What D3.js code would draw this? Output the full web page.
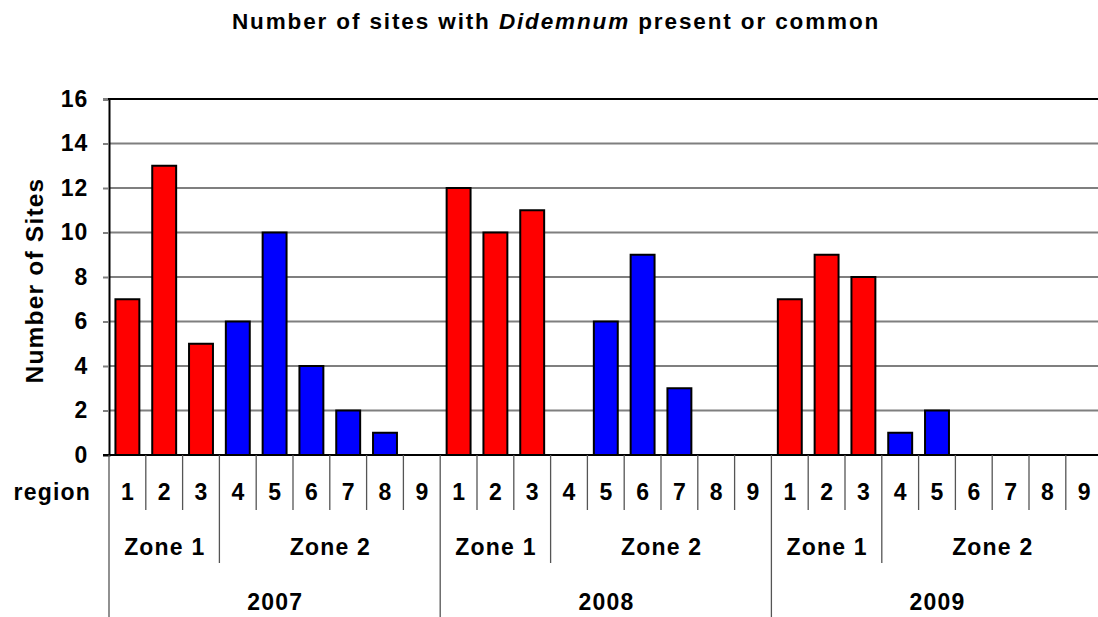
<!DOCTYPE html>
<html>
<head>
<meta charset="utf-8">
<script src="https://cdn.jsdelivr.net/npm/d3@7"></script>
<style>
  html, body { margin: 0; padding: 0; background: #fff; }
  svg { display: block; font-family: "Liberation Sans", Arial, sans-serif; }
  .lbl { font-size: 23px; font-weight: bold; letter-spacing: 1.2px; fill: #000; }
</style>
</head>
<body>
<svg id="chart" width="1098" height="617"></svg>
<script>
// Survey years, zones and regions
const years = ["2007", "2008", "2009"];
const zones = [
  { name: "Zone 1", regions: [1, 2, 3] },
  { name: "Zone 2", regions: [4, 5, 6, 7, 8, 9] }
];
const regions = [1, 2, 3, 4, 5, 6, 7, 8, 9];

// Number of sites with Didemnum present or common, per region
const sites2007 = [7, 13, 5, 6, 10, 4, 2, 1, 0];
const sites2008 = [12, 10, 11, 0, 6, 9, 3, 0, 0];
const sites2009 = [7, 9, 8, 1, 2, 0, 0, 0, 0];
const yTicks = [0, 2, 4, 6, 8, 10, 12, 14, 16];

const zoneColor = { "Zone 1": "#ff0000", "Zone 2": "#0000ff" };

const seriesByYear = [sites2007, sites2008, sites2009];
const rows = [];
years.forEach((yr, yi) => {
  regions.forEach((r, ri) => {
    const zone = zones.find(z => z.regions.includes(r)).name;
    rows.push({ key: yr + "-" + r, year: yr, region: r, zone, value: seriesByYear[yi][ri] });
  });
});

const svg = d3.select("#chart");
const plotL = 109, plotR = 1102.6, plotT = 99, plotB = 455;

const x = d3.scaleBand().domain(rows.map(d => d.key)).range([plotL, plotR]).paddingInner(0.35).paddingOuter(0.175);
const xs = d3.scaleBand().domain(rows.map(d => d.key)).range([plotL, plotR]).padding(0);
const y = d3.scaleLinear().domain([0, 16]).range([plotB, plotT]);

// Title, spread to its full width
const title = svg.append("text")
  .attr("x", 232).attr("y", 29)
  .style("font-size", "22.5px").style("font-weight", "bold");
title.append("tspan").text("Number of sites with ");
title.append("tspan").style("font-style", "italic").text("Didemnum");
title.append("tspan").text("  present or common");
{
  const node = title.node();
  const w = node.getComputedTextLength();
  const n = node.textContent.length;
  title.style("letter-spacing", ((650 - w) / n) + "px");
}

// Horizontal gridlines
svg.append("g").selectAll("line")
  .data(yTicks.filter(t => t > 0 && t < 16))
  .join("line")
  .attr("x1", plotL).attr("x2", plotR)
  .attr("y1", d => y(d)).attr("y2", d => y(d))
  .attr("stroke", "#7f7f7f").attr("stroke-width", 2);

// Y axis
const yAxis = svg.append("g")
  .attr("transform", `translate(${plotL},0)`)
  .call(d3.axisLeft(y).tickValues(yTicks).tickSize(6).tickPadding(15));
yAxis.select(".domain").attr("stroke", "#000").attr("stroke-width", 2);
yAxis.selectAll(".tick line").attr("stroke", "#7f7f7f").attr("stroke-width", 2);
yAxis.selectAll(".tick text")
  .attr("class", "lbl")
  .attr("font-family", null).attr("font-size", null)
  .style("letter-spacing", "0.8px");

// Top border
svg.append("line").attr("x1", plotL - 1).attr("x2", plotR).attr("y1", y(16)).attr("y2", y(16))
  .attr("stroke", "#000").attr("stroke-width", 2);

// Y axis title
svg.append("text")
  .attr("transform", `translate(43,${(178 + 383) / 2}) rotate(-90)`)
  .attr("text-anchor", "middle")
  .attr("class", "lbl")
  .style("font-size", "24.5px")
  .text("Number of Sites");

// Bars
svg.append("g").selectAll("rect")
  .data(rows.filter(d => d.value > 0))
  .join("rect")
  .attr("x", d => x(d.key))
  .attr("width", x.bandwidth())
  .attr("y", d => y(d.value))
  .attr("height", d => y(0) - y(d.value))
  .attr("fill", d => zoneColor[d.zone])
  .attr("stroke", "#000").attr("stroke-width", 2);

// Baseline
svg.append("line").attr("x1", plotL - 6).attr("x2", plotR).attr("y1", plotB).attr("y2", plotB)
  .attr("stroke", "#000").attr("stroke-width", 2);

// Category table below the axis
const rowRegion = 492, rowZone = 547, rowYear = 602;
const g = svg.append("g");

// Region labels and separators
g.selectAll("text.region")
  .data(rows)
  .join("text").attr("class", "lbl region")
  .attr("x", d => xs(d.key) + xs.bandwidth() / 2 + 0.6)
  .attr("y", rowRegion).attr("dy", "0.35em")
  .attr("text-anchor", "middle")
  .text(d => d.region);

g.selectAll("line.rsep")
  .data(rows)
  .join("line").attr("class", "rsep")
  .attr("x1", d => xs(d.key)).attr("x2", d => xs(d.key))
  .attr("y1", plotB).attr("y2", d => {
    if (d.region === 1) return 617;
    if (d.region === 4) return 563;
    return 510;
  })
  .attr("stroke", "#555").attr("stroke-width", 1.3);

g.append("text")
  .attr("x", 91).attr("y", rowRegion).attr("dy", "0.35em")
  .attr("text-anchor", "end")
  .attr("class", "lbl")
  .text("region");

// Zone and year labels
years.forEach(yr => {
  zones.forEach(z => {
    const k0 = yr + "-" + z.regions[0];
    const k1 = yr + "-" + z.regions[z.regions.length - 1];
    const cx = (xs(k0) + xs(k1) + xs.bandwidth()) / 2;
    g.append("text")
      .attr("x", cx + 0.6).attr("y", rowZone).attr("dy", "0.35em")
      .attr("text-anchor", "middle")
      .attr("class", "lbl")
      .text(z.name);
  });
  const a = xs(yr + "-1"), b = xs(yr + "-9") + xs.bandwidth();
  g.append("text")
    .attr("x", (a + b) / 2 + 0.6).attr("y", rowYear).attr("dy", "0.35em")
    .attr("text-anchor", "middle")
    .attr("class", "lbl")
    .text(yr);
});
</script>
</body>
</html>
